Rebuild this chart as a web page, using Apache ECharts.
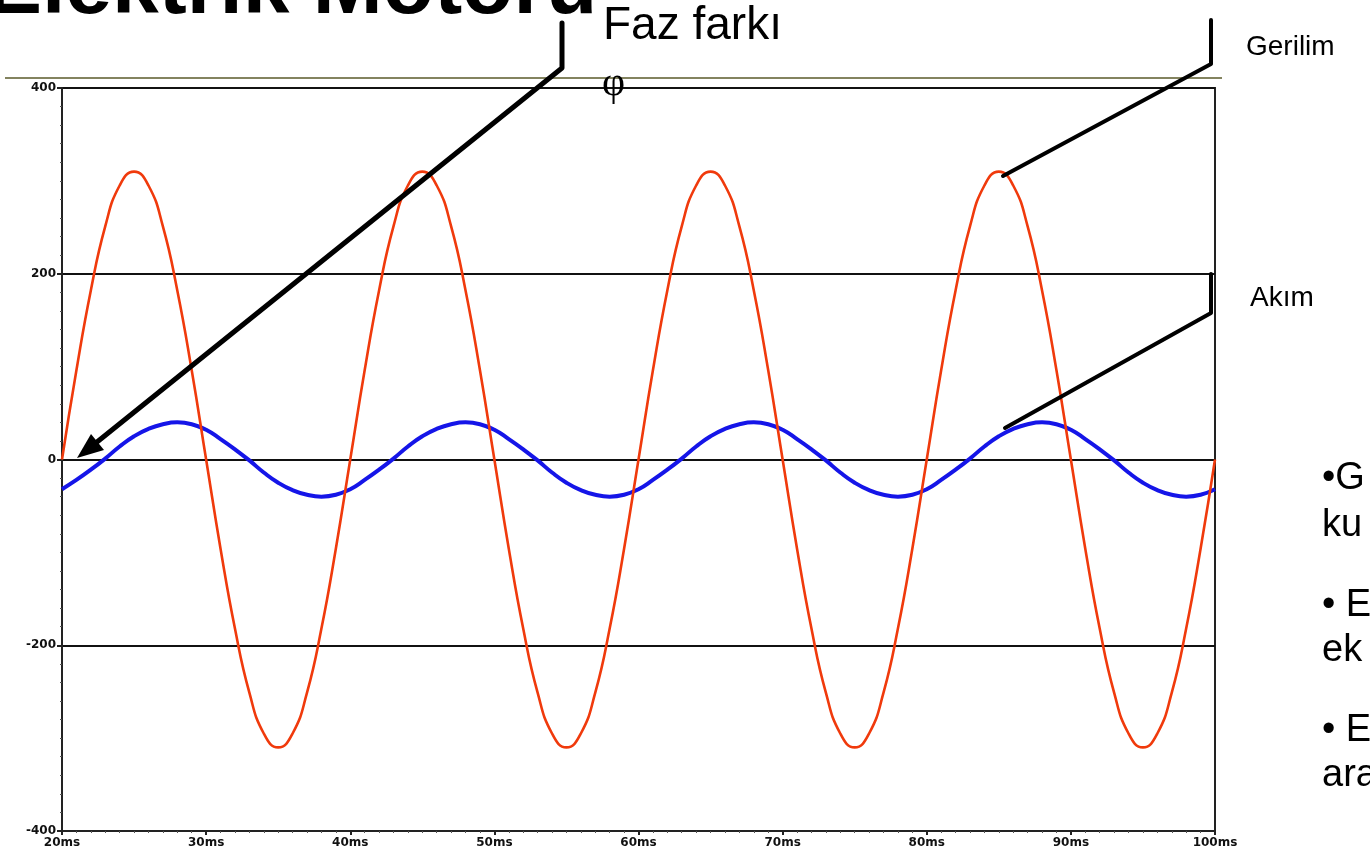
<!DOCTYPE html>
<html>
<head>
<meta charset="utf-8">
<style>
  html, body { margin: 0; padding: 0; background: #fff; }
  #chart { width: 1370px; height: 859px; }
</style>
<script src="https://cdn.jsdelivr.net/npm/echarts@6/dist/echarts.min.js"></script>
</head>
<body>
<div id="chart"></div>
<script>
// time axis in ms, one sample per ms
const times = [
  20, 21, 22, 23, 24, 25, 26, 27, 28, 29, 30, 31, 32, 33, 34, 35, 36, 37, 38, 39,
  40, 41, 42, 43, 44, 45, 46, 47, 48, 49, 50, 51, 52, 53, 54, 55, 56, 57, 58, 59,
  60, 61, 62, 63, 64, 65, 66, 67, 68, 69, 70, 71, 72, 73, 74, 75, 76, 77, 78, 79,
  80, 81, 82, 83, 84, 85, 86, 87, 88, 89, 90, 91, 92, 93, 94, 95, 96, 97, 98, 99,
  100
];

// Gerilim (voltage) — red trace
const gerilim = [
  0, 96, 182, 251, 295, 310, 295, 251, 182, 96, 0, -96, -182, -251, -295, -310, -295, -251, -182, -96,
  0, 96, 182, 251, 295, 310, 295, 251, 182, 96, 0, -96, -182, -251, -295, -310, -295, -251, -182, -96,
  0, 96, 182, 251, 295, 310, 295, 251, 182, 96, 0, -96, -182, -251, -295, -310, -295, -251, -182, -96,
  0, 96, 182, 251, 295, 310, 295, 251, 182, 96, 0, -96, -182, -251, -295, -310, -295, -251, -182, -96,
  0
];

// Akım (current) — blue trace, lags the voltage
const akim = [
  -32, -22, -11, 1, 14, 25, 33, 38, 40, 38, 32, 22, 11, -1, -14, -25, -33, -38, -40, -38,
  -32, -22, -11, 1, 14, 25, 33, 38, 40, 38, 32, 22, 11, -1, -14, -25, -33, -38, -40, -38,
  -32, -22, -11, 1, 14, 25, 33, 38, 40, 38, 32, 22, 11, -1, -14, -25, -33, -38, -40, -38,
  -32, -22, -11, 1, 14, 25, 33, 38, 40, 38, 32, 22, 11, -1, -14, -25, -33, -38, -40, -38,
  -32
];

const bullets = ['•G', 'ku', '• E', 'ek', '• E', 'ara'];

const chart = echarts.init(document.getElementById('chart'));

const pair = arr => times.map((t, i) => [t, arr[i]]);
const sans = '"Liberation Sans", Arial, sans-serif';
const tickFont = { color: '#111', fontFamily: '"DejaVu Sans", sans-serif', fontWeight: 'bold', fontSize: 12 };

// slide decoration: callout lines drawn over the chart
function callout(pts, w) {
  return {
    type: 'polyline',
    shape: { points: pts },
    style: { stroke: '#000', lineWidth: w, fill: null, lineCap: 'round', lineJoin: 'round' },
    z: 100
  };
}

const bulletY = [480, 527, 607, 652, 732, 777];

chart.setOption({
  animation: false,
  backgroundColor: '#fff',
  grid: { left: 62, right: 155, top: 88, bottom: 28, show: true, borderColor: '#222', borderWidth: 2 },
  xAxis: {
    type: 'value',
    min: 20,
    max: 100,
    interval: 10,
    axisLine: { onZero: false, lineStyle: { color: '#222', width: 2 } },
    axisTick: { show: true, length: 4, lineStyle: { color: '#222', width: 2 } },
    minorTick: { show: true, splitNumber: 10, length: 2, lineStyle: { color: '#555' } },
    splitLine: { show: false },
    axisLabel: Object.assign({ formatter: v => v + 'ms', margin: 6 }, tickFont)
  },
  yAxis: {
    type: 'value',
    min: -400,
    max: 400,
    interval: 200,
    axisLine: { show: true, lineStyle: { color: '#222', width: 2 } },
    axisTick: { show: true, length: 5, lineStyle: { color: '#222', width: 2 } },
    minorTick: { show: true, splitNumber: 10, length: 2, lineStyle: { color: '#555' } },
    splitLine: { show: true, lineStyle: { color: '#111', width: 2 } },
    axisLabel: Object.assign({ margin: 6 }, tickFont)
  },
  series: [
    {
      name: 'Akım',
      type: 'line',
      data: pair(akim),
      smooth: 0.5,
      symbol: 'none',
      lineStyle: { color: '#1515e8', width: 4 },
      z: 3
    },
    {
      name: 'Gerilim',
      type: 'line',
      data: pair(gerilim),
      smooth: 0.5,
      symbol: 'none',
      lineStyle: { color: '#f03a0c', width: 2.6 },
      z: 4
    }
  ],
  graphic: [
    // title, cut off at the top of the slide
    {
      type: 'text', left: -14, top: -52, z: 100,
      style: { text: 'Elektrik Motoru', font: 'bold 84px ' + sans, fill: '#000' }
    },
    {
      type: 'line', z: 100,
      shape: { x1: 5, y1: 78, x2: 1222, y2: 78 },
      style: { stroke: '#5a5a2a', lineWidth: 1.5 }
    },
    {
      type: 'text', left: 603, top: 3, z: 100,
      style: { text: 'Faz farkı', font: '46px ' + sans, fill: '#000' }
    },
    {
      type: 'text', left: 602, top: 64, z: 100,
      style: { text: 'φ', font: '40px "Liberation Serif", serif', fill: '#000' }
    },
    callout([[562, 23], [562, 68], [97, 442]], 5),
    {
      type: 'polygon', z: 100,
      shape: { points: [[77, 458], [104, 450], [91, 434]] },
      style: { fill: '#000' }
    },
    callout([[1211, 20], [1211, 64], [1003, 176]], 4),
    callout([[1211, 274], [1211, 313], [1005, 428]], 4),
    {
      type: 'text', left: 1246, top: 33, z: 100,
      style: { text: 'Gerilim', font: '28px ' + sans, fill: '#000' }
    },
    {
      type: 'text', left: 1250, top: 284, z: 100,
      style: { text: 'Akım', font: '28px ' + sans, fill: '#000' }
    }
  ].concat(bullets.map((b, i) => ({
    type: 'text', left: 1322, top: bulletY[i] - 20, z: 100,
    style: { text: b, font: '38px ' + sans, fill: '#000' }
  })))
});
</script>
</body>
</html>
